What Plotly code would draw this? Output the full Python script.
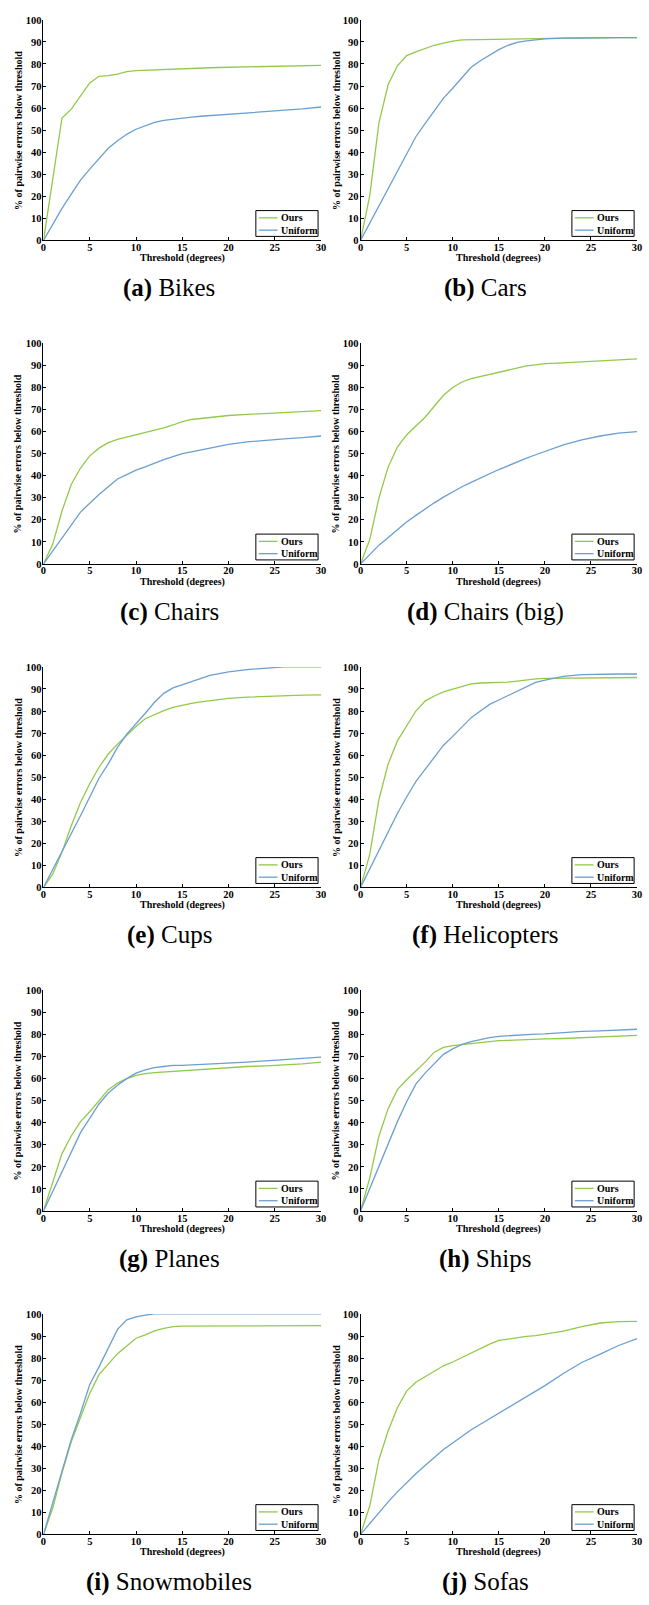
import plotly.graph_objects as go

W, H = 649, 1605

threshold = [0, 1, 2, 3, 4, 5, 6, 7, 8, 9, 10, 11, 12, 13, 14, 15, 16, 17, 18, 19, 20, 22, 24, 26, 28, 30]
x_ticks = [0, 5, 10, 15, 20, 25, 30]
y_ticks = [0, 10, 20, 30, 40, 50, 60, 70, 80, 90, 100]

captions = [("a", "Bikes"), ("b", "Cars"), ("c", "Chairs"), ("d", "Chairs (big)"),
            ("e", "Cups"), ("f", "Helicopters"), ("g", "Planes"), ("h", "Ships"),
            ("i", "Snowmobiles"), ("j", "Sofas")]
series_names = ["Ours", "Uniform"]
x_title = "Threshold (degrees)"
y_title = "% of pairwise errors below threshold"

bikes_ours = [0, 28, 55.5, 59.5, 65.3, 71.4, 74.4, 74.7, 75.4, 76.5, 77.0, 77.2, 77.4, 77.6, 77.8, 77.9, 78.0, 78.1, 78.3, 78.4, 78.5, 78.6, 78.8, 79.0, 79.2, 79.4]
bikes_uniform = [0, 7.5, 14.5, 21, 27.3, 32.3, 37, 41.8, 45.2, 48.1, 50.4, 52, 53.5, 54.4, 55, 55.5, 55.9, 56.3, 56.6, 56.8, 57.0, 57.8, 58.5, 58.9, 59.6, 60.5]
cars_ours = [0, 20.3, 53.4, 70.7, 79.2, 83.8, 85.5, 87, 88.5, 89.5, 90.4, 90.9, 91, 91.1, 91.2, 91.3, 91.4, 91.4, 91.5, 91.5, 91.6, 91.7, 91.8, 92, 92, 92]
cars_uniform = [0, 7.8, 15.5, 23.3, 31, 39, 47, 53, 59, 64.5, 69, 74, 78.5, 81.5, 84, 86.5, 88.5, 89.8, 90.5, 91, 91.4, 91.7, 91.9, 92, 92, 92]
chairs_ours = [0, 9, 24, 36, 43.5, 49, 52.5, 55, 56.5, 57.5, 58.5, 59.5, 60.5, 61.7, 63, 64.5, 65.5, 66, 66.5, 67, 67.3, 67.8, 68.3, 68.7, 69.1, 69.5]
chairs_uniform = [0, 6, 12, 18, 23.5, 27.5, 31.5, 35, 38.5, 40.5, 42.5, 44, 45.7, 47.3, 48.7, 50, 50.8, 51.7, 52.7, 53.5, 54.2, 55.3, 56.1, 56.7, 57.3, 58]
chairsbig_ours = [0, 11, 30, 44, 53, 58.5, 62.5, 66.5, 71.5, 76.5, 80, 82.5, 84, 85, 86, 87, 88, 89, 89.8, 90.3, 90.8, 91.2, 91.6, 92.2, 92.6, 93]
chairsbig_uniform = [0, 4.5, 8.5, 12, 15.5, 19, 22, 25, 27.7, 30.3, 32.8, 35, 37, 39, 41, 42.8, 44.5, 46.3, 48, 49.5, 51, 54, 56.3, 58, 59.3, 60]
cups_ours = [0, 6, 16, 28, 38.5, 47, 54.5, 60.5, 65, 69, 73, 76.5, 78.5, 80.2, 81.7, 82.7, 83.5, 84.2, 84.8, 85.3, 85.7, 86.3, 86.7, 87, 87.2, 87.3]
cups_uniform = [0, 8, 16, 24.5, 32.5, 41, 49.5, 56, 63.5, 69.5, 74, 79, 84, 88, 90.5, 92, 93.5, 95, 96.2, 97, 97.8, 98.8, 99.5, 100, 100, 100]
heli_ours = [0, 15, 40, 56, 66.5, 73.5, 80, 84.5, 86.8, 88.7, 90, 91.3, 92.3, 92.7, 92.8, 92.9, 93.1, 93.6, 94.2, 94.6, 94.8, 94.9, 95, 95, 95.1, 95.2]
heli_uniform = [0, 8.5, 17, 25, 33.5, 41, 48, 53.5, 59, 64.5, 68.5, 73, 77, 80, 83, 85, 87, 89, 91, 93, 94, 95.7, 96.5, 96.8, 96.8, 96.8]
planes_ours = [0, 13, 26, 34, 40.5, 45, 50, 55, 58, 60, 61.5, 62.3, 62.7, 63, 63.2, 63.5, 63.8, 64.2, 64.5, 64.8, 65, 65.5, 65.8, 66.2, 66.7, 67.5]
planes_uniform = [0, 9, 18, 27, 35.5, 42, 48.5, 53.5, 57, 60, 62.5, 64, 65, 65.5, 66, 66, 66.2, 66.3, 66.5, 66.8, 67, 67.5, 68.1, 68.7, 69.2, 69.8]
ships_ours = [0, 15, 34, 46.5, 55, 59.5, 63.5, 67.5, 72, 74.2, 75, 75.5, 76, 76.5, 77, 77.2, 77.4, 77.6, 77.8, 77.9, 78, 78.2, 78.5, 78.8, 79.2, 79.6]
ships_uniform = [0, 10, 20.5, 30.5, 40.5, 49.5, 57.5, 62.5, 67, 71, 73.5, 75.5, 76.8, 77.8, 78.6, 79.2, 79.5, 79.8, 80, 80.2, 80.3, 81, 81.4, 81.7, 82.1, 82.4]
snow_ours = [0, 12, 28, 42, 53, 64, 72.5, 77.5, 82, 85.5, 89, 90.5, 92.3, 93.5, 94.3, 94.5, 94.5, 94.5, 94.5, 94.5, 94.5, 94.5, 94.5, 94.6, 94.6, 94.7]
snow_uniform = [0, 14, 29, 43, 55, 68, 76, 84.5, 93, 97.3, 98.7, 99.5, 100, 100, 100, 100, 100, 100, 100, 100, 100, 100, 100, 100, 100, 100]
sofas_ours = [0, 13, 34, 47, 57.5, 65, 69, 71.5, 74.2, 76.5, 78.2, 80.2, 82.5, 84.5, 86.3, 88, 88.7, 89.2, 89.8, 90.2, 90.8, 92.2, 94.3, 95.9, 96.5, 96.6]
sofas_uniform = [0, 5, 10, 14.8, 19.3, 23.5, 27.5, 31.3, 35, 38.5, 41.5, 44.5, 47.5, 50, 52.5, 55, 57.5, 60, 62.5, 65, 67.5, 73, 78, 81.8, 85.7, 88.8]

panels = [
    (bikes_ours, bikes_uniform), (cars_ours, cars_uniform),
    (chairs_ours, chairs_uniform), (chairsbig_ours, chairsbig_uniform),
    (cups_ours, cups_uniform), (heli_ours, heli_uniform),
    (planes_ours, planes_uniform), (ships_ours, ships_uniform),
    (snow_ours, snow_uniform), (sofas_ours, sofas_uniform),
]

colors = ["#93c94a", "#6b9fd1"]
SERIF = "Liberation Serif"


def px(x):
    return x / W


def py(y):
    return 1 - y / H


fig = go.Figure()
layout = dict(
    width=W, height=H, margin=dict(l=0, r=0, t=0, b=0),
    paper_bgcolor="white", plot_bgcolor="white", showlegend=False,
)
shapes = []
annotations = []

col_left = [41, 362]
col_right = [322, 642]
cap_cx = [168.5, 488.5]
ytitle_x = [15, 337]

for i, (ours, uni) in enumerate(panels):
    assert len(ours) == len(threshold) and len(uni) == len(threshold)
    r, c = divmod(i, 2)
    top = 15 + r * 325.75
    bot = top + 222
    L, R = col_left[c], col_right[c]
    n = "" if i == 0 else str(i + 1)
    xa, ya = "x" + n, "y" + n
    for k, (vals, name) in enumerate(zip((ours, uni), series_names)):
        fig.add_trace(go.Scatter(
            x=threshold, y=vals, mode="lines", name=name,
            line=dict(color=colors[k], width=1.3),
            xaxis=xa, yaxis=ya, showlegend=False,
        ))
    axcommon = dict(
        showline=True, linecolor="black", linewidth=1, mirror=False,
        ticks="inside", ticklen=3, tickwidth=1, tickcolor="black",
        showgrid=False, zeroline=False,
        tickfont=dict(family=SERIF, size=10.5, color="black", weight="bold"),
    )
    layout["xaxis" + n] = dict(
        axcommon, domain=[px(L), px(R)], range=[0, 30], tickvals=x_ticks,
        anchor=ya, fixedrange=True, ticklabelstandoff=-3,
    )
    layout["yaxis" + n] = dict(
        axcommon, domain=[py(bot), py(top)], range=[0, 100], tickvals=y_ticks,
        anchor=xa, fixedrange=True, ticklabelstandoff=-1,
    )
    # axis titles
    annotations.append(dict(
        text=x_title, x=px((L + R) / 2), y=py(bot + 18), xref="paper", yref="paper",
        xanchor="center", yanchor="middle", showarrow=False,
        font=dict(family=SERIF, size=10, color="black", weight="bold"),
    ))
    annotations.append(dict(
        text=y_title, x=px(ytitle_x[c]), y=py((top + bot) / 2), xref="paper", yref="paper",
        xanchor="center", yanchor="middle", showarrow=False, textangle=-90,
        font=dict(family=SERIF, size=10, color="black", weight="bold"),
    ))
    # caption
    letter, name = captions[i]
    annotations.append(dict(
        text=f"<b>({letter})</b> {name}", x=px(cap_cx[c]), y=py(bot + 48),
        xref="paper", yref="paper", xanchor="center", yanchor="middle",
        showarrow=False, font=dict(family=SERIF, size=25, color="black"),
    ))
    # legend box
    shapes.append(dict(
        type="rect", xref="paper", yref="paper",
        x0=px(R - 66), x1=px(R - 3), y0=py(bot - 4), y1=py(bot - 30),
        line=dict(color="black", width=1), fillcolor="white", layer="above",
    ))
    for k, ly in enumerate((bot - 22.7, bot - 10.3)):
        shapes.append(dict(
            type="line", xref="paper", yref="paper",
            x0=px(R - 63), x1=px(R - 44), y0=py(ly), y1=py(ly),
            line=dict(color=colors[k], width=1.3), layer="above",
        ))
        annotations.append(dict(
            text=series_names[k], x=px(R - 43), y=py(ly), xref="paper", yref="paper",
            xanchor="left", yanchor="middle", showarrow=False,
            font=dict(family=SERIF, size=10, color="black", weight="bold"),
        ))

layout["shapes"] = shapes
layout["annotations"] = annotations
fig.update_layout(**layout)
fig.write_html(
    "out.html",
    config={"displayModeBar": False},
    post_script="document.body.style.margin='0';document.body.style.overflow='hidden';",
)
